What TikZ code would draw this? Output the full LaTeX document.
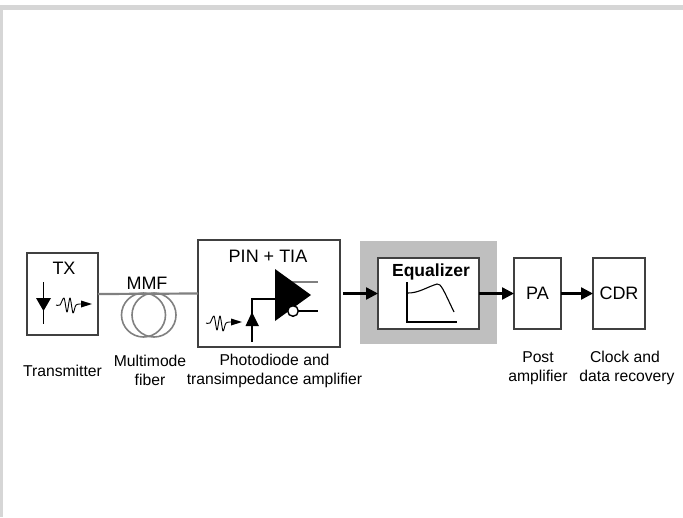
\documentclass[tikz,border=0pt]{standalone}
\usepackage{fontspec}
\setmainfont{Liberation Sans}
\usetikzlibrary{arrows.meta}
\definecolor{edgegray}{HTML}{D6D6D6}
\definecolor{panelgray}{HTML}{BFBFBF}
\definecolor{fibergray}{HTML}{808080}
\definecolor{boxline}{HTML}{404040}
\tikzset{
  box/.style={draw=boxline,line width=1.3pt,fill=white,minimum width=#1,inner sep=0pt,outer sep=0pt,font=\fontsize{18}{20}\selectfont},
  caption/.style={align=center,inner sep=0pt,font=\fontsize{15.7}{19}\selectfont},
  head/.style={inner sep=0pt,font=\fontsize{18}{20}\selectfont},
  link/.style={line width=2.4pt,draw=black,-{Triangle[length=12pt,width=12pt]}},
  fiber/.style={line width=2.2pt,draw=fibergray},
  coil/.style={line width=1.6pt,draw=fibergray},
  wire/.style={line width=1.4pt,draw=black},
  squiggle/.pic={
    \draw[line width=0.9pt,line join=round] plot[smooth,tension=0.5] coordinates
      {(0,0) (4,0) (8,-7) (11,7) (14,-7) (17,8) (20,0) (26,-1)};
    \fill (25,-4.5) -- (36,-1) -- (25,2.5) -- cycle;
  }
}
\begin{document}
\begin{tikzpicture}[x=1pt,y=-1pt]
\useasboundingbox (0,0) rectangle (683,517);
% page edge
\fill[edgegray] (0,5) rectangle (683,517);
\fill[white] (3,10) rectangle (683,517);
% panel behind the equalizer
\fill[panelgray] (360,241) rectangle (497,344);
% boxes
\node[box=71pt,minimum height=82pt] (tx) at (62.5,294) {};
\node[box=142pt,minimum height=107pt] (pin) at (269,293.5) {};
\node[box=101pt,minimum height=71pt] (eq) at (428.5,293.5) {};
\node[box=47pt,minimum height=71pt] (pa) at (537.5,293.5) {PA};
\node[box=52pt,minimum height=71pt] (cdr) at (619,293.5) {CDR};
% headings
\node[head] (txh) at (64,268) {TX};
\node[head] (mmf) at (147,283.5) {MMF};
\node[head] (pinh) at (268,256) {PIN + TIA};
\node[head,font=\fontsize{17.5}{20}\selectfont\bfseries] (eqh) at (431,272) {Equalizer};
% connectors
\draw[fiber] (tx.east) -- (pin.west);
\draw[link,shorten <=3pt] (pin.east) -- (eq.west);
\draw[link] (eq.east) -- (pa.west);
\draw[link] (pa.east) -- (cdr.west);
% fibre coil
\draw[coil] (143.5,315) circle (22);
\draw[coil] (154,315) circle (22);
% TX diode
\draw[wire] (43.5,282) -- (43.5,324);
\fill (36,298) -- (51,298) -- (43.5,311) -- cycle;
\pic at (56,305) {squiggle};
% amplifier
\draw[fiber] (290,282) -- (318,282);
\draw[wire] (295,311) -- (318,311);
\draw[wire] (275,299) -- (252,299) -- (252,342);
\fill (275,269) -- (275,321) -- (311,295) -- cycle;
\draw[line width=1.4pt,fill=white] (293,311) circle (5.3);
\fill (252,312) -- (259,326) -- (245.5,326) -- cycle;
\pic at (206,323) {squiggle};
% equalizer curve
\draw[wire,line width=1.1pt] (407,282) -- (407,322) -- (457,322);
\draw[wire,line width=1.1pt] (407,293) .. controls (418,293.5) and (427,287) .. (437,284) .. controls (441,283.5) and (443,289) .. (454,312);
% captions
\node[caption] (c1) at (62.5,371) {Transmitter};
\node[caption] (c2) at (150,370.5) {Multimode\\fiber};
\node[caption] (c3) at (274.5,370.5) {Photodiode and\\transimpedance amplifier};
\node[caption] (c4) at (538,368) {Post\\amplifier};
\node[caption] (c5) at (627,368) {\hspace*{-4pt}Clock and\\data recovery};
\end{tikzpicture}
\end{document}
